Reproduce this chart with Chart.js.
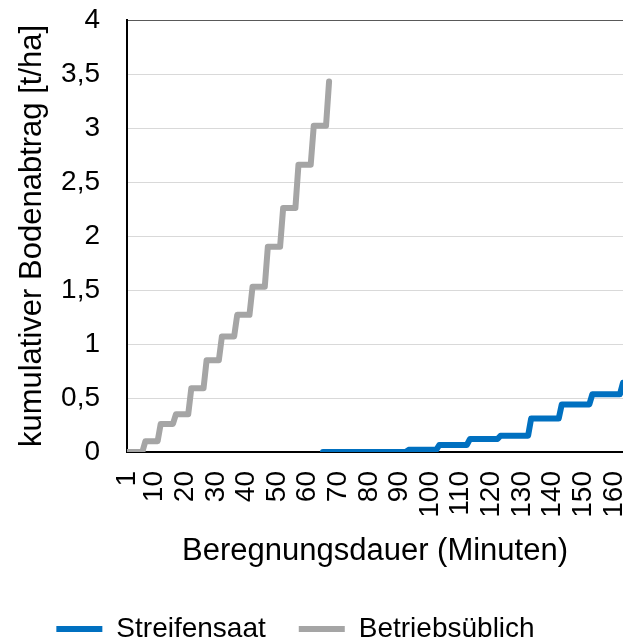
<!DOCTYPE html>
<html>
<head>
<meta charset="utf-8">
<script src="https://cdn.jsdelivr.net/npm/chart.js@4/dist/chart.umd.min.js"></script>
<style>
  html, body { margin: 0; padding: 0; background: #fff; overflow: hidden; }
  #wrap { width: 623px; height: 660px; position: relative; }
</style>
</head>
<body>
<div id="wrap"><canvas id="chart"></canvas></div>
<script>
// Minute labels shown on the x axis
const minuteTicks = [1, 10, 20, 30, 40, 50, 60, 70, 80, 90, 100, 110, 120, 130, 140, 150, 160];
const minuteMin = 1;
const minuteMax = 163;

// Cumulative soil loss [t/ha]; each level holds until the next step minute
const betriebStart = 1;
const betriebStepMinutes = [7, 12, 17, 22, 27, 32, 37, 42, 47, 52, 57, 62, 67];
const betriebLevels = [0, 0.10, 0.26, 0.35, 0.59, 0.85, 1.07, 1.27, 1.53, 1.90, 2.26, 2.66, 3.02, 3.43];

const streifenStart = 65;
const streifenStepMinutes = [93, 103, 113, 123, 133, 143, 153, 163];
const streifenLevels = [0, 0.02, 0.065, 0.12, 0.15, 0.31, 0.44, 0.535, 0.64];

const seriesNames = ['Streifensaat', 'Betriebsüblich'];
const seriesColors = ['#0070C0', '#A5A5A5'];

// Corner points of a step series: a level runs to the minute before a step,
// the next level starts at the step minute.
function stepPoints(start, stepMinutes, levels) {
  const pts = [{ x: start, y: levels[0] }];
  stepMinutes.forEach((m, i) => {
    pts.push({ x: m - 1, y: levels[i] });
    pts.push({ x: m, y: levels[i + 1] });
  });
  return pts;
}

const FONT = "'Liberation Sans', Arial, sans-serif";
const LABEL_SIZE = 28;
const TITLE_SIZE = 31;

function lineDataset(name, color, data) {
  return {
    label: name,
    data: data,
    borderColor: color,
    backgroundColor: color,
    borderWidth: 6,
    borderCapStyle: 'round',
    borderJoinStyle: 'round',
    pointRadius: 0,
    pointHoverRadius: 0,
    tension: 0,
    fill: false,
    pointStyle: 'line'
  };
}

// Legend row sits a little left of centre
const legendShift = {
  id: 'legendShift',
  afterLayout(chart) {
    if (chart.legend) {
      chart.legend.left -= 16;
      chart.legend.right -= 16;
    }
  }
};

new Chart(document.getElementById('chart'), {
  type: 'line',
  data: {
    datasets: [
      lineDataset(seriesNames[0], seriesColors[0], stepPoints(streifenStart, streifenStepMinutes, streifenLevels)),
      lineDataset(seriesNames[1], seriesColors[1], stepPoints(betriebStart, betriebStepMinutes, betriebLevels))
    ]
  },
  plugins: [legendShift],
  options: {
    responsive: true,
    maintainAspectRatio: false,
    animation: false,
    devicePixelRatio: 1,
    layout: { padding: { top: 20, left: 0, right: 0, bottom: 7 } },
    plugins: {
      tooltip: { enabled: false },
      legend: {
        position: 'bottom',
        labels: {
          font: { family: FONT, size: LABEL_SIZE },
          color: '#000',
          usePointStyle: true,
          pointStyleWidth: 46,
          boxHeight: LABEL_SIZE,
          padding: 33
        }
      }
    },
    scales: {
      x: {
        type: 'linear',
        min: minuteMin,
        max: minuteMax,
        afterBuildTicks(scale) {
          scale.ticks = minuteTicks.map(v => ({ value: v }));
        },
        afterFit(scale) {
          scale.height = 130;
          scale.paddingLeft = 0;
          scale.paddingRight = 0;
        },
        ticks: {
          autoSkip: false,
          minRotation: 90,
          maxRotation: 90,
          padding: 19,
          font: { family: FONT, size: LABEL_SIZE },
          color: '#000',
          callback: v => String(v)
        },
        grid: { display: false, drawTicks: false },
        border: { display: true, color: '#000', width: 2 },
        title: {
          display: true,
          text: 'Beregnungsdauer (Minuten)',
          font: { family: FONT, size: TITLE_SIZE },
          color: '#000',
          padding: { top: 0, bottom: 12 }
        }
      },
      y: {
        min: 0,
        max: 4,
        afterBuildTicks(scale) {
          const t = [];
          for (let v = 0; v <= 8; v++) t.push({ value: v / 2 });
          scale.ticks = t;
        },
        afterFit(scale) {
          scale.width = 127;
          scale.paddingTop = 0;
          scale.paddingBottom = 0;
        },
        ticks: {
          padding: 27,
          font: { family: FONT, size: LABEL_SIZE },
          color: '#000',
          callback: v => String(v).replace('.', ',')
        },
        grid: {
          drawTicks: false,
          lineWidth: 1,
          color: ctx => (ctx.tick && ctx.tick.value === 4 ? '#595959' : '#D9D9D9')
        },
        border: { display: true, color: '#000', width: 2 },
        title: {
          display: true,
          text: 'kumulativer Bodenabtrag [t/ha]',
          font: { family: FONT, size: TITLE_SIZE },
          color: '#000',
          padding: { top: 14, bottom: 0 }
        }
      }
    }
  }
});
</script>
</body>
</html>
